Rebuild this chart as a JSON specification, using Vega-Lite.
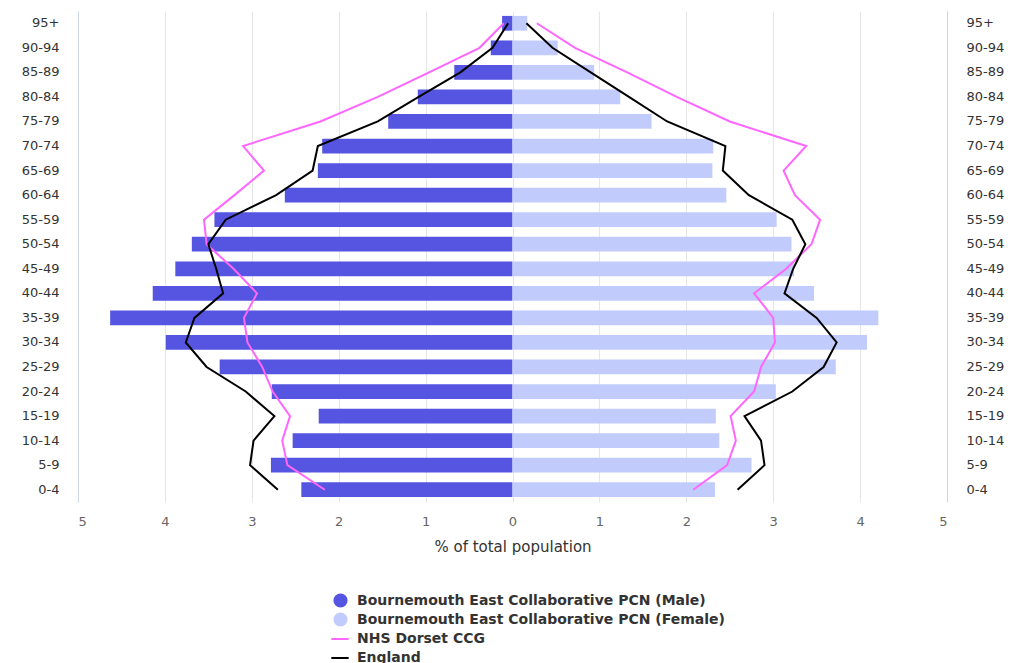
{
  "$schema": "https://vega.github.io/schema/vega-lite/v6.json",
  "width": 869,
  "height": 491,
  "autosize": {"type": "none"},
  "padding": {"left": 78, "top": 11, "right": 64, "bottom": 161},
  "background": "#ffffff",
  "config": {"font": "DejaVu Sans", "view": {"stroke": null}},
  "datasets": {
    "pcn": [
      {"age": "95+", "ord": 0, "series": "Bournemouth East Collaborative PCN (Male)", "value": -0.12},
      {"age": "90-94", "ord": 1, "series": "Bournemouth East Collaborative PCN (Male)", "value": -0.25},
      {"age": "85-89", "ord": 2, "series": "Bournemouth East Collaborative PCN (Male)", "value": -0.67},
      {"age": "80-84", "ord": 3, "series": "Bournemouth East Collaborative PCN (Male)", "value": -1.09},
      {"age": "75-79", "ord": 4, "series": "Bournemouth East Collaborative PCN (Male)", "value": -1.43},
      {"age": "70-74", "ord": 5, "series": "Bournemouth East Collaborative PCN (Male)", "value": -2.19},
      {"age": "65-69", "ord": 6, "series": "Bournemouth East Collaborative PCN (Male)", "value": -2.24},
      {"age": "60-64", "ord": 7, "series": "Bournemouth East Collaborative PCN (Male)", "value": -2.62},
      {"age": "55-59", "ord": 8, "series": "Bournemouth East Collaborative PCN (Male)", "value": -3.43},
      {"age": "50-54", "ord": 9, "series": "Bournemouth East Collaborative PCN (Male)", "value": -3.69},
      {"age": "45-49", "ord": 10, "series": "Bournemouth East Collaborative PCN (Male)", "value": -3.88},
      {"age": "40-44", "ord": 11, "series": "Bournemouth East Collaborative PCN (Male)", "value": -4.14},
      {"age": "35-39", "ord": 12, "series": "Bournemouth East Collaborative PCN (Male)", "value": -4.63},
      {"age": "30-34", "ord": 13, "series": "Bournemouth East Collaborative PCN (Male)", "value": -3.99},
      {"age": "25-29", "ord": 14, "series": "Bournemouth East Collaborative PCN (Male)", "value": -3.37},
      {"age": "20-24", "ord": 15, "series": "Bournemouth East Collaborative PCN (Male)", "value": -2.77},
      {"age": "15-19", "ord": 16, "series": "Bournemouth East Collaborative PCN (Male)", "value": -2.23},
      {"age": "10-14", "ord": 17, "series": "Bournemouth East Collaborative PCN (Male)", "value": -2.53},
      {"age": "5-9", "ord": 18, "series": "Bournemouth East Collaborative PCN (Male)", "value": -2.78},
      {"age": "0-4", "ord": 19, "series": "Bournemouth East Collaborative PCN (Male)", "value": -2.43},
      {"age": "95+", "ord": 0, "series": "Bournemouth East Collaborative PCN (Female)", "value": 0.17},
      {"age": "90-94", "ord": 1, "series": "Bournemouth East Collaborative PCN (Female)", "value": 0.52},
      {"age": "85-89", "ord": 2, "series": "Bournemouth East Collaborative PCN (Female)", "value": 0.94},
      {"age": "80-84", "ord": 3, "series": "Bournemouth East Collaborative PCN (Female)", "value": 1.24},
      {"age": "75-79", "ord": 4, "series": "Bournemouth East Collaborative PCN (Female)", "value": 1.6},
      {"age": "70-74", "ord": 5, "series": "Bournemouth East Collaborative PCN (Female)", "value": 2.31},
      {"age": "65-69", "ord": 6, "series": "Bournemouth East Collaborative PCN (Female)", "value": 2.3},
      {"age": "60-64", "ord": 7, "series": "Bournemouth East Collaborative PCN (Female)", "value": 2.46},
      {"age": "55-59", "ord": 8, "series": "Bournemouth East Collaborative PCN (Female)", "value": 3.04},
      {"age": "50-54", "ord": 9, "series": "Bournemouth East Collaborative PCN (Female)", "value": 3.21},
      {"age": "45-49", "ord": 10, "series": "Bournemouth East Collaborative PCN (Female)", "value": 3.24},
      {"age": "40-44", "ord": 11, "series": "Bournemouth East Collaborative PCN (Female)", "value": 3.47},
      {"age": "35-39", "ord": 12, "series": "Bournemouth East Collaborative PCN (Female)", "value": 4.21},
      {"age": "30-34", "ord": 13, "series": "Bournemouth East Collaborative PCN (Female)", "value": 4.08},
      {"age": "25-29", "ord": 14, "series": "Bournemouth East Collaborative PCN (Female)", "value": 3.72},
      {"age": "20-24", "ord": 15, "series": "Bournemouth East Collaborative PCN (Female)", "value": 3.03},
      {"age": "15-19", "ord": 16, "series": "Bournemouth East Collaborative PCN (Female)", "value": 2.34},
      {"age": "10-14", "ord": 17, "series": "Bournemouth East Collaborative PCN (Female)", "value": 2.38},
      {"age": "5-9", "ord": 18, "series": "Bournemouth East Collaborative PCN (Female)", "value": 2.75},
      {"age": "0-4", "ord": 19, "series": "Bournemouth East Collaborative PCN (Female)", "value": 2.33}
    ],
    "ref": [
      {"age": "95+", "ord": 0, "series": "NHS Dorset CCG", "side": "Male", "value": -0.1},
      {"age": "90-94", "ord": 1, "series": "NHS Dorset CCG", "side": "Male", "value": -0.38},
      {"age": "85-89", "ord": 2, "series": "NHS Dorset CCG", "side": "Male", "value": -0.96},
      {"age": "80-84", "ord": 3, "series": "NHS Dorset CCG", "side": "Male", "value": -1.55},
      {"age": "75-79", "ord": 4, "series": "NHS Dorset CCG", "side": "Male", "value": -2.21},
      {"age": "70-74", "ord": 5, "series": "NHS Dorset CCG", "side": "Male", "value": -3.1},
      {"age": "65-69", "ord": 6, "series": "NHS Dorset CCG", "side": "Male", "value": -2.86},
      {"age": "60-64", "ord": 7, "series": "NHS Dorset CCG", "side": "Male", "value": -3.2},
      {"age": "55-59", "ord": 8, "series": "NHS Dorset CCG", "side": "Male", "value": -3.55},
      {"age": "50-54", "ord": 9, "series": "NHS Dorset CCG", "side": "Male", "value": -3.52},
      {"age": "45-49", "ord": 10, "series": "NHS Dorset CCG", "side": "Male", "value": -3.21},
      {"age": "40-44", "ord": 11, "series": "NHS Dorset CCG", "side": "Male", "value": -2.94},
      {"age": "35-39", "ord": 12, "series": "NHS Dorset CCG", "side": "Male", "value": -3.09},
      {"age": "30-34", "ord": 13, "series": "NHS Dorset CCG", "side": "Male", "value": -3.05},
      {"age": "25-29", "ord": 14, "series": "NHS Dorset CCG", "side": "Male", "value": -2.88},
      {"age": "20-24", "ord": 15, "series": "NHS Dorset CCG", "side": "Male", "value": -2.76},
      {"age": "15-19", "ord": 16, "series": "NHS Dorset CCG", "side": "Male", "value": -2.56},
      {"age": "10-14", "ord": 17, "series": "NHS Dorset CCG", "side": "Male", "value": -2.65},
      {"age": "5-9", "ord": 18, "series": "NHS Dorset CCG", "side": "Male", "value": -2.59},
      {"age": "0-4", "ord": 19, "series": "NHS Dorset CCG", "side": "Male", "value": -2.16},
      {"age": "95+", "ord": 0, "series": "NHS Dorset CCG", "side": "Female", "value": 0.28},
      {"age": "90-94", "ord": 1, "series": "NHS Dorset CCG", "side": "Female", "value": 0.72},
      {"age": "85-89", "ord": 2, "series": "NHS Dorset CCG", "side": "Female", "value": 1.32},
      {"age": "80-84", "ord": 3, "series": "NHS Dorset CCG", "side": "Female", "value": 1.89},
      {"age": "75-79", "ord": 4, "series": "NHS Dorset CCG", "side": "Female", "value": 2.5},
      {"age": "70-74", "ord": 5, "series": "NHS Dorset CCG", "side": "Female", "value": 3.38},
      {"age": "65-69", "ord": 6, "series": "NHS Dorset CCG", "side": "Female", "value": 3.12},
      {"age": "60-64", "ord": 7, "series": "NHS Dorset CCG", "side": "Female", "value": 3.25},
      {"age": "55-59", "ord": 8, "series": "NHS Dorset CCG", "side": "Female", "value": 3.54},
      {"age": "50-54", "ord": 9, "series": "NHS Dorset CCG", "side": "Female", "value": 3.44},
      {"age": "45-49", "ord": 10, "series": "NHS Dorset CCG", "side": "Female", "value": 3.15},
      {"age": "40-44", "ord": 11, "series": "NHS Dorset CCG", "side": "Female", "value": 2.78},
      {"age": "35-39", "ord": 12, "series": "NHS Dorset CCG", "side": "Female", "value": 3.0},
      {"age": "30-34", "ord": 13, "series": "NHS Dorset CCG", "side": "Female", "value": 3.02},
      {"age": "25-29", "ord": 14, "series": "NHS Dorset CCG", "side": "Female", "value": 2.86},
      {"age": "20-24", "ord": 15, "series": "NHS Dorset CCG", "side": "Female", "value": 2.78},
      {"age": "15-19", "ord": 16, "series": "NHS Dorset CCG", "side": "Female", "value": 2.51},
      {"age": "10-14", "ord": 17, "series": "NHS Dorset CCG", "side": "Female", "value": 2.57},
      {"age": "5-9", "ord": 18, "series": "NHS Dorset CCG", "side": "Female", "value": 2.47},
      {"age": "0-4", "ord": 19, "series": "NHS Dorset CCG", "side": "Female", "value": 2.08},
      {"age": "95+", "ord": 0, "series": "England", "side": "Male", "value": -0.05},
      {"age": "90-94", "ord": 1, "series": "England", "side": "Male", "value": -0.23},
      {"age": "85-89", "ord": 2, "series": "England", "side": "Male", "value": -0.6},
      {"age": "80-84", "ord": 3, "series": "England", "side": "Male", "value": -1.08},
      {"age": "75-79", "ord": 4, "series": "England", "side": "Male", "value": -1.55},
      {"age": "70-74", "ord": 5, "series": "England", "side": "Male", "value": -2.24},
      {"age": "65-69", "ord": 6, "series": "England", "side": "Male", "value": -2.3},
      {"age": "60-64", "ord": 7, "series": "England", "side": "Male", "value": -2.72},
      {"age": "55-59", "ord": 8, "series": "England", "side": "Male", "value": -3.3},
      {"age": "50-54", "ord": 9, "series": "England", "side": "Male", "value": -3.5},
      {"age": "45-49", "ord": 10, "series": "England", "side": "Male", "value": -3.41},
      {"age": "40-44", "ord": 11, "series": "England", "side": "Male", "value": -3.33},
      {"age": "35-39", "ord": 12, "series": "England", "side": "Male", "value": -3.66},
      {"age": "30-34", "ord": 13, "series": "England", "side": "Male", "value": -3.76},
      {"age": "25-29", "ord": 14, "series": "England", "side": "Male", "value": -3.52},
      {"age": "20-24", "ord": 15, "series": "England", "side": "Male", "value": -3.07},
      {"age": "15-19", "ord": 16, "series": "England", "side": "Male", "value": -2.74},
      {"age": "10-14", "ord": 17, "series": "England", "side": "Male", "value": -2.98},
      {"age": "5-9", "ord": 18, "series": "England", "side": "Male", "value": -3.02},
      {"age": "0-4", "ord": 19, "series": "England", "side": "Male", "value": -2.7},
      {"age": "95+", "ord": 0, "series": "England", "side": "Female", "value": 0.16},
      {"age": "90-94", "ord": 1, "series": "England", "side": "Female", "value": 0.46},
      {"age": "85-89", "ord": 2, "series": "England", "side": "Female", "value": 0.9},
      {"age": "80-84", "ord": 3, "series": "England", "side": "Female", "value": 1.34},
      {"age": "75-79", "ord": 4, "series": "England", "side": "Female", "value": 1.78},
      {"age": "70-74", "ord": 5, "series": "England", "side": "Female", "value": 2.45},
      {"age": "65-69", "ord": 6, "series": "England", "side": "Female", "value": 2.42},
      {"age": "60-64", "ord": 7, "series": "England", "side": "Female", "value": 2.72},
      {"age": "55-59", "ord": 8, "series": "England", "side": "Female", "value": 3.22},
      {"age": "50-54", "ord": 9, "series": "England", "side": "Female", "value": 3.37},
      {"age": "45-49", "ord": 10, "series": "England", "side": "Female", "value": 3.23},
      {"age": "40-44", "ord": 11, "series": "England", "side": "Female", "value": 3.13},
      {"age": "35-39", "ord": 12, "series": "England", "side": "Female", "value": 3.5},
      {"age": "30-34", "ord": 13, "series": "England", "side": "Female", "value": 3.73},
      {"age": "25-29", "ord": 14, "series": "England", "side": "Female", "value": 3.58},
      {"age": "20-24", "ord": 15, "series": "England", "side": "Female", "value": 3.22},
      {"age": "15-19", "ord": 16, "series": "England", "side": "Female", "value": 2.67},
      {"age": "10-14", "ord": 17, "series": "England", "side": "Female", "value": 2.86},
      {"age": "5-9", "ord": 18, "series": "England", "side": "Female", "value": 2.9},
      {"age": "0-4", "ord": 19, "series": "England", "side": "Female", "value": 2.59}
    ]
  },
  "layer": [
    {
      "data": {"name": "pcn"},
      "mark": {"type": "bar"},
      "encoding": {
        "y": {
          "field": "age", "type": "nominal",
          "sort": ["95+","90-94","85-89","80-84","75-79","70-74","65-69","60-64","55-59","50-54","45-49","40-44","35-39","30-34","25-29","20-24","15-19","10-14","5-9","0-4"],
          "scale": {"paddingInner": 0.4, "paddingOuter": 0.2},
          "axis": {"orient": "left", "title": null, "domainColor": "#ccd6eb", "ticks": false, "labelColor": "#333333", "labelFontSize": 13, "labelPadding": 19, "grid": false}
        },
        "x": {
          "field": "value", "type": "quantitative",
          "scale": {"domain": [-5, 5], "nice": false, "zero": false},
          "axis": {"values": [-5,-4,-3,-2,-1,0,1,2,3,4,5], "labelExpr": "abs(datum.value)", "grid": true, "gridColor": "#e6e6e6", "domain": false, "ticks": false, "labelColor": "#666666", "labelFontSize": 13, "labelPadding": 13, "title": "% of total population", "titleColor": "#333333", "titleFontWeight": "normal", "titleFontSize": 15, "titlePadding": 11}
        },
        "color": {
          "field": "series", "type": "nominal",
          "scale": {"domain": ["Bournemouth East Collaborative PCN (Male)", "Bournemouth East Collaborative PCN (Female)"], "range": ["#5555e2", "#c2ccfc"]},
          "legend": {"orient": "none", "legendX": 255, "legendY": 582, "title": null, "direction": "vertical", "symbolType": "circle", "symbolSize": 200, "symbolStrokeWidth": 0, "labelFontSize": 14, "labelFontWeight": "bold", "labelColor": "#333333", "labelOffset": 9, "labelLimit": 0, "rowPadding": 4, "padding": 0}
        }
      }
    },
    {
      "data": {"name": "ref"},
      "mark": {"type": "line", "strokeWidth": 2},
      "encoding": {
        "y": {
          "field": "age", "type": "nominal",
          "sort": ["95+","90-94","85-89","80-84","75-79","70-74","65-69","60-64","55-59","50-54","45-49","40-44","35-39","30-34","25-29","20-24","15-19","10-14","5-9","0-4"],
          "axis": {"orient": "right", "title": null, "domainColor": "#ccd6eb", "ticks": false, "labelColor": "#333333", "labelFontSize": 13, "labelPadding": 19, "grid": false}
        },
        "x": {"field": "value", "type": "quantitative"},
        "stroke": {
          "field": "series", "type": "nominal",
          "scale": {"domain": ["NHS Dorset CCG", "England"], "range": ["#ff66ff", "#000000"]},
          "legend": {"orient": "none", "legendX": 252, "legendY": 618, "title": null, "direction": "vertical", "symbolType": "stroke", "symbolSize": 300, "symbolStrokeWidth": 2, "labelFontSize": 14, "labelFontWeight": "bold", "labelColor": "#333333", "labelOffset": 7, "labelLimit": 0, "rowPadding": 2, "padding": 0}
        },
        "detail": {"field": "side"},
        "order": {"field": "ord", "type": "quantitative"}
      }
    }
  ],
  "resolve": {"axis": {"y": "independent"}, "legend": {"color": "independent"}}
}
